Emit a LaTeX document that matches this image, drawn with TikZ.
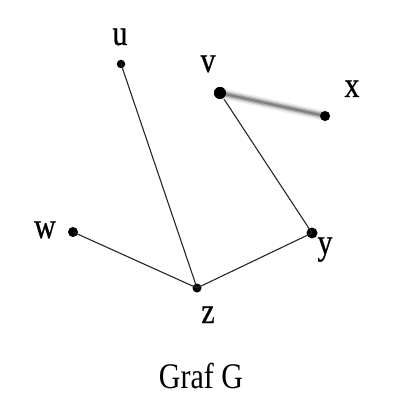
\documentclass[tikz,border=0pt]{standalone}
\usepackage{graphicx}
\usepackage{fontspec}
\setmainfont{Liberation Serif}
\newfontfamily\lblfont[FakeBold=0.7]{Liberation Serif}
\newcommand\stretchtxt[1]{\scalebox{1}[1.2]{#1}}
\tikzset{
  vtx/.style={circle,fill=black,inner sep=0pt,minimum size=#1},
  lbl/.style={anchor=base,inner sep=0pt,font=\lblfont\fontsize{30}{30}\selectfont},
  edge/.style={line width=1.1pt,black!85},
}
\begin{document}
\begin{tikzpicture}[x=1pt,y=-1pt]
\useasboundingbox[fill=white] (0,0) rectangle (409,409);
% vertices
\node[vtx=8.5pt]  (u) at (121,64) {};
\node[vtx=12pt]   (v) at (220,93) {};
\node[vtx=10pt]   (x) at (325,116) {};
\node[vtx=10pt]   (w) at (73,232) {};
\node[vtx=11pt]   (y) at (312,233) {};
\node[vtx=9pt]    (z) at (197,288) {};
% edges
\draw[edge] (u.center) -- (z.center);
\draw[edge] (w.center) -- (z.center);
\draw[edge] (z.center) -- (y.center);
\draw[edge] (v.center) -- (y.center);
% blurred edge v-x
\draw[line width=10pt,black!7,line cap=round] (v.center) -- (x.center);
\draw[line width=7pt,black!18,line cap=round] (v.center) -- (x.center);
\draw[line width=4.5pt,black!35,line cap=round] (v.center) -- (x.center);
\draw[line width=2pt,black!50,line cap=round] (v.center) -- (x.center);
\node[vtx=12pt] (v2) at (v) {};
\node[vtx=10pt] (x2) at (x) {};
% labels
\node[lbl] (lu) at (120,45) {\stretchtxt{u}};
\node[lbl] (lv) at (208,72) {\stretchtxt{v}};
\node[lbl] (lx) at (352,97) {\stretchtxt{x}};
\node[lbl] (lw) at (45,238) {\stretchtxt{w}};
\node[lbl] (ly) at (325,254) {\stretchtxt{y}};
\node[lbl] (lz) at (208,323) {\stretchtxt{z}};
\node[anchor=base,inner sep=0pt,font=\fontsize{30}{30}\selectfont] (cap) at (201,388) {\stretchtxt{Graf G}};
\end{tikzpicture}
\end{document}
